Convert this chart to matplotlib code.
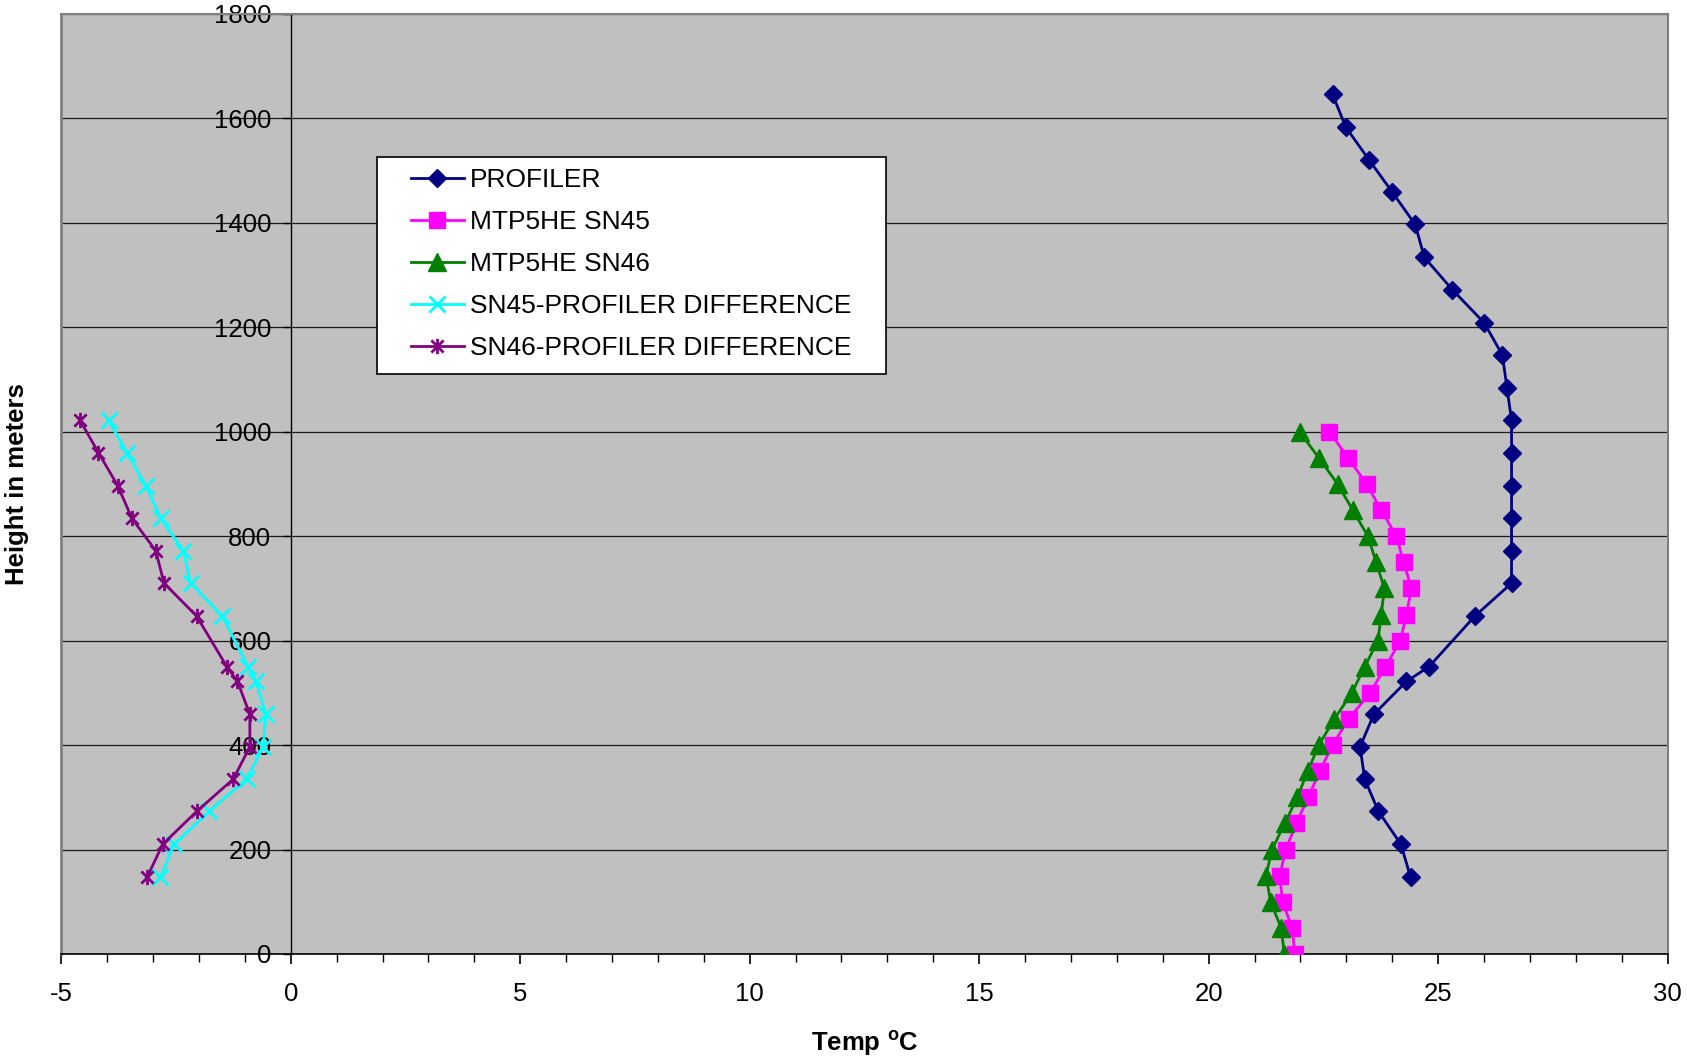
import matplotlib
matplotlib.use("Agg")
import matplotlib.pyplot as plt
from matplotlib.path import Path
from matplotlib.patches import Rectangle
from matplotlib.ticker import MultipleLocator

plt.rcParams["font.family"] = ["Liberation Sans", "DejaVu Sans"]
plt.rcParams["mathtext.fontset"] = "custom"
plt.rcParams["mathtext.rm"] = "Liberation Sans"
plt.rcParams["mathtext.bf"] = "Liberation Sans:bold"
plt.rcParams["axes.unicode_minus"] = False

# --- data ---
profiler_h = [147, 210, 273, 335, 397, 459, 522, 550, 647, 710, 772, 834, 897,
              960, 1022, 1084, 1147, 1209, 1272, 1334, 1397, 1459, 1520, 1583, 1646]
profiler_t = [24.40, 24.19, 23.70, 23.40, 23.30, 23.60, 24.31, 24.80, 25.80, 26.60,
              26.60, 26.60, 26.60, 26.60, 26.60, 26.50, 26.40, 26.00, 25.31, 24.70,
              24.50, 24.00, 23.50, 22.99, 22.70]

mtp_h = [0, 50, 100, 150, 200, 250, 300, 350, 400, 450, 500, 550, 600, 650, 700,
         750, 800, 850, 900, 950, 1000]
sn45_t = [21.88, 21.82, 21.61, 21.55, 21.68, 21.91, 22.17, 22.42, 22.70, 23.05, 23.52,
          23.85, 24.18, 24.31, 24.42, 24.25, 24.09, 23.76, 23.44, 23.04, 22.63]
sn46_t = [21.65, 21.58, 21.35, 21.25, 21.38, 21.66, 21.93, 22.16, 22.40, 22.74, 23.12,
          23.40, 23.69, 23.76, 23.83, 23.65, 23.47, 23.14, 22.81, 22.40, 21.98]

diff_h = [147, 210, 273, 335, 397, 459, 522, 550, 647, 710, 772, 834, 897, 960, 1022]
diff45_t = [-2.84, -2.54, -1.78, -0.96, -0.60, -0.54, -0.76, -0.93, -1.49, -2.18,
            -2.34, -2.83, -3.16, -3.57, -3.97]
diff46_t = [-3.13, -2.79, -2.05, -1.25, -0.89, -0.89, -1.16, -1.39, -2.05, -2.76,
            -2.94, -3.46, -3.77, -4.19, -4.59]

x_ticks = [-5, 0, 5, 10, 15, 20, 25, 30]
y_ticks = list(range(0, 1801, 200))

# asterisk marker: an x with a vertical bar through it
asterisk = Path([(-1, -1), (1, 1), (-1, 1), (1, -1), (0, -1.25), (0, 1.25)],
                [Path.MOVETO, Path.LINETO] * 3)

fig = plt.figure(figsize=(16.87, 10.58), dpi=100)
ax = fig.add_axes([0.0363, 0.0983, 0.9522, 0.8885])
ax.set_facecolor("#C0C0C0")

lw = 2.0
ax.plot(profiler_t, profiler_h, color="#000080", lw=lw, marker="D", ms=9,
        label="PROFILER", zorder=3)
ax.plot(sn45_t, mtp_h, color="#FF00FF", lw=lw, marker="s", ms=11.5,
        label="MTP5HE SN45", zorder=3)
ax.plot(sn46_t, mtp_h, color="#008000", lw=lw, marker="^", ms=12.5,
        label="MTP5HE SN46", zorder=3)
ax.plot(diff45_t, diff_h, color="#00FFFF", lw=lw, marker="x", ms=11.5, mew=2.0,
        label="SN45-PROFILER DIFFERENCE", zorder=3)
ax.plot(diff46_t, diff_h, color="#800080", lw=lw, marker=asterisk, ms=11, mew=2.0,
        label="SN46-PROFILER DIFFERENCE", zorder=3)

ax.set_xlim(-5, 30)
ax.set_ylim(0, 1800)
ax.set_xticks(x_ticks)
ax.xaxis.set_minor_locator(MultipleLocator(1))
ax.set_yticks(y_ticks)
ax.set_yticklabels([str(v) for v in y_ticks])

ax.yaxis.grid(True, color="#1a1a1a", lw=0.9, zorder=1)
ax.set_axisbelow(True)

# vertical axis crosses at 0 like the Excel original
ax.spines["left"].set_position(("data", 0))
ax.spines["left"].set_color("black")
ax.spines["left"].set_linewidth(1.0)
ax.spines["bottom"].set_color("black")
ax.spines["bottom"].set_linewidth(1.2)
for side in ("top", "right"):
    ax.spines[side].set_color("#808080")
    ax.spines[side].set_linewidth(1.5)
ax.axvline(-5, color="#808080", lw=2, zorder=2, clip_on=False)

ax.tick_params(axis="x", which="major", direction="out", length=7, width=1.2,
               labelsize=18.5, pad=13.5)
ax.tick_params(axis="x", which="minor", direction="out", length=6, width=1.0)
ax.tick_params(axis="y", direction="out", length=6, width=1.0, labelsize=18.5, pad=8)

ax.set_xlabel(r"Temp $^{\mathbf{o}}$C", fontsize=18.5, fontweight="bold", labelpad=16)
fig.text(17 / 1687, 0.5425, "Height in meters", rotation=90, ha="center", va="center",
         fontsize=18.5, fontweight="bold")

# legend box
ax.add_patch(Rectangle((0.1965, 0.6165), 0.317, 0.2315, transform=ax.transAxes,
                       facecolor="white", edgecolor="black", lw=1.2, zorder=4))
leg = ax.legend(loc="upper left", bbox_to_anchor=(0.2177, 0.836), frameon=False,
                borderpad=0, borderaxespad=0, fontsize=19, handlelength=2.0,
                handletextpad=0.25, labelspacing=0.68)
leg.set_zorder(5)

fig.savefig("out.png", dpi=100)
